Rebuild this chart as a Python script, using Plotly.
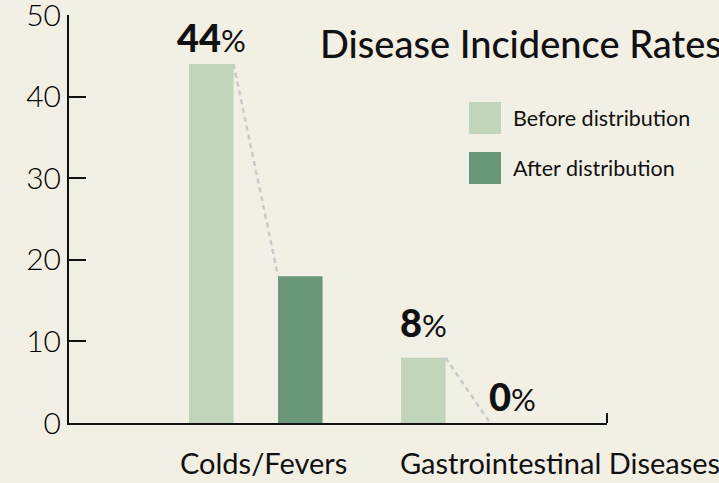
import plotly.graph_objects as go

# ---- data ----
categories = ["Colds/Fevers", "Gastrointestinal Diseases"]
series_names = ["Before distribution", "After distribution"]
before_values = [44, 8]
after_values = [18, 0]
label_before = [True, True]
label_after = [False, True]
y_ticks = [0, 10, 20, 30, 40, 50]

# ---- style ----
BG = "#f2f0e4"
C_BEFORE = "#c1d5bb"
C_AFTER = "#6a9778"
C_DASH = "#c9c9cb"
INK = "#111111"
FONT = "Lato"

W, H = 719, 483
ML, MR, MT, MB = 69, 112, 15, 60
PW, PH = W - ML - MR, H - MT - MB

x_idx = list(range(len(categories)))
bar_w = 0.21
off_before = -0.316
off_after = 0.104
before_label_shift = [2, 11]   # pixel nudges for the value labels (style only)

fig = go.Figure()
fig.add_bar(x=x_idx, y=before_values, width=bar_w, offset=off_before,
            marker=dict(color=C_BEFORE, line_width=0), name=series_names[0],
            showlegend=False, hoverinfo="skip")
fig.add_bar(x=x_idx, y=after_values, width=bar_w, offset=off_after,
            marker=dict(color=C_AFTER, line_width=0), name=series_names[1],
            showlegend=False, hoverinfo="skip")

for i in x_idx:
    fig.add_scatter(x=[i + off_before + bar_w, i + off_after],
                    y=[before_values[i], after_values[i]], mode="lines",
                    line=dict(color=C_DASH, width=2.5, dash="5px,4px"),
                    hoverinfo="skip", showlegend=False)

annotations = []

def value_label(x, v, shift):
    return dict(x=x, y=v, xref="x", yref="y", yanchor="bottom", xanchor="center",
                yshift=shift, showarrow=False,
                text=f"{v}<span style='font-size:31px;font-weight:400'>%</span>",
                font=dict(family=FONT, size=38, color=INK, weight=900))

for i in x_idx:
    if label_before[i]:
        annotations.append(value_label(i + off_before + bar_w / 2, before_values[i],
                                       before_label_shift[i]))
    if label_after[i]:
        annotations.append(value_label(i + off_after + bar_w / 2, after_values[i], 2))

# category labels
annotations.append(dict(x=0, y=0, xref="x", yref="paper", yanchor="top", xanchor="center",
                        xshift=7, yshift=-20, showarrow=False, text=categories[0],
                        font=dict(family=FONT, size=29, color=INK)))
annotations.append(dict(x=1, y=0, xref="x", yref="paper", yanchor="top", xanchor="left",
                        xshift=-70, yshift=-20, showarrow=False, text=categories[1],
                        font=dict(family=FONT, size=29, color=INK)))

# legend (drawn manually for large swatches)
def px_x(p):
    return (p - ML) / PW

def px_y(p):
    return (H - MB - p) / PH

shapes = []
legend_rows = [(series_names[0], C_BEFORE, 102), (series_names[1], C_AFTER, 152)]
for name, col, top in legend_rows:
    shapes.append(dict(type="rect", xref="paper", yref="paper",
                       x0=px_x(469), x1=px_x(501), y0=px_y(top + 32), y1=px_y(top),
                       fillcolor=col, line_width=0))
    annotations.append(dict(x=px_x(511), y=px_y(top + 16), xref="paper", yref="paper",
                            xanchor="left", yanchor="middle", showarrow=False, text=name,
                            font=dict(family=FONT, size=21.5, color=INK)))

# right end tick of x axis
shapes.append(dict(type="line", xref="paper", yref="paper", x0=1, x1=1,
                   y0=0, y1=10 / PH, line=dict(color=INK, width=2)))

fig.update_layout(
    width=W, height=H,
    margin=dict(l=ML, r=MR, t=MT, b=MB, pad=0, autoexpand=False),
    paper_bgcolor=BG, plot_bgcolor=BG,
    barmode="overlay",
    showlegend=False,
    title=dict(text="Disease Incidence Rates", x=320 / W, xref="container", xanchor="left",
               y=1 - 45 / H, yref="container", yanchor="middle", automargin=False,
               font=dict(family=FONT, size=38, color=INK, weight=500)),
    xaxis=dict(range=[-(256 - ML) / 212, (ML + PW - 256) / 212], showline=True,
               linewidth=2, linecolor=INK, showticklabels=False, ticks="",
               showgrid=False, zeroline=False, fixedrange=True, automargin=False),
    yaxis=dict(range=[0, 50.01], tickvals=y_ticks, ticks="inside", ticklen=17, tickwidth=2,
               tickcolor=INK, showline=True, linewidth=2, linecolor=INK,
               ticklabeloverflow="allow", automargin=False,
               tickfont=dict(family=FONT, size=30, color="#000000", weight=300),
               showgrid=False, zeroline=False, fixedrange=True),
    annotations=annotations,
    shapes=shapes,
)

fig.write_html("out.html", config={"displayModeBar": False},
               post_script="document.body.style.margin='0';")
